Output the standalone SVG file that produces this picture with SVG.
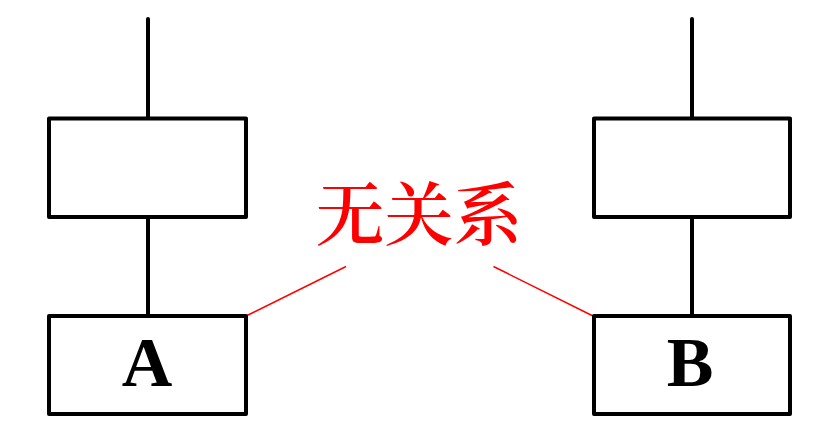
<svg xmlns="http://www.w3.org/2000/svg" width="839" height="431" viewBox="0 0 839 431">
<style>
.box{fill:#fff;stroke:#000;stroke-width:4;stroke-linejoin:round}
.wire{stroke:#000;stroke-width:4;stroke-linecap:round;fill:none}
.rel{stroke:#f00;stroke-width:1.5;fill:none}
.lbl{font-family:"Liberation Serif","Times New Roman",serif;font-weight:bold;font-size:70px;fill:#000;text-anchor:middle}
.cn{font-family:"Noto Serif CJK SC","Noto Sans CJK SC",serif;font-size:69px;font-weight:600;fill:#f00;text-anchor:middle}
</style>
<rect width="839" height="431" fill="#fff"/>
<g id="connectors">
<line class="wire" x1="148" y1="19" x2="148" y2="118"/>
<line class="wire" x1="148" y1="217" x2="148" y2="316"/>
<line class="wire" x1="692" y1="19" x2="692" y2="118"/>
<line class="wire" x1="692" y1="217" x2="692" y2="316"/>
<line class="rel" x1="346" y1="266.5" x2="246" y2="316"/>
<line class="rel" x1="493.5" y1="266.5" x2="593" y2="316"/>
</g>
<g id="nodeA-top"><rect class="box" x="49" y="118.5" width="197" height="98.5"/></g>
<g id="nodeA"><rect class="box" x="49" y="316" width="197" height="98"/><text class="lbl" x="147" y="386">A</text></g>
<g id="nodeB-top"><rect class="box" x="594" y="118.5" width="196" height="98.5"/></g>
<g id="nodeB"><rect class="box" x="594" y="316" width="196" height="98"/><text class="lbl" x="690" y="386">B</text></g>
<g id="label"><text class="cn" x="419" y="240">无关系</text></g>
</svg>
